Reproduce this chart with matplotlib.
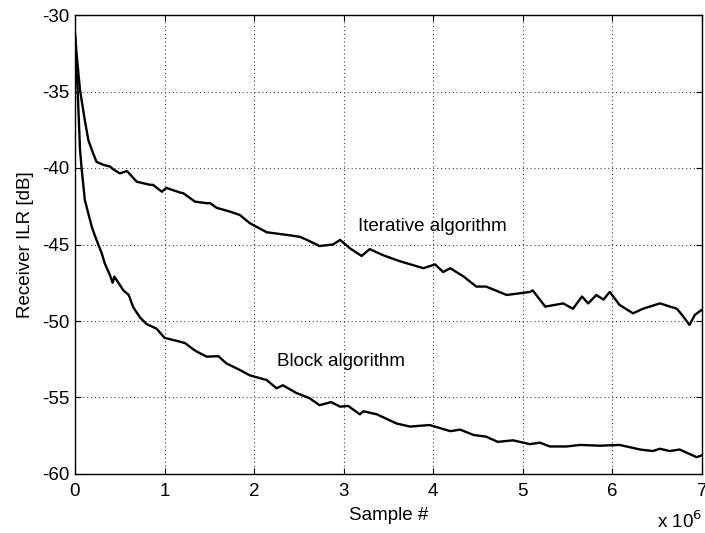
import matplotlib
matplotlib.use("Agg")
import matplotlib.pyplot as plt

plt.rcParams['font.family'] = ['Liberation Sans', 'DejaVu Sans']

# Iterative algorithm (x in units of 1e6 samples, y in dB)
iter_x = [0.0, 0.02, 0.056, 0.11, 0.15, 0.2, 0.24, 0.28, 0.32, 0.39, 0.43, 0.50, 0.58, 0.69,
          0.84, 0.87, 0.97, 1.02, 1.17, 1.21, 1.34, 1.47, 1.51, 1.58, 1.73, 1.84, 1.95,
          2.14, 2.40, 2.51, 2.59, 2.73, 2.88, 2.96, 3.07, 3.2, 3.29, 3.44, 3.63, 3.89,
          4.02, 4.11, 4.19, 4.34, 4.48, 4.59, 4.82, 5.08, 5.11, 5.25, 5.45, 5.56, 5.66,
          5.73, 5.82, 5.90, 5.97, 6.08, 6.23, 6.34, 6.53, 6.72, 6.79, 6.86, 6.92, 6.99]
iter_y = [-31.2, -32.7, -34.9, -36.9, -38.2, -39.0, -39.6, -39.7, -39.8, -39.9, -40.1, -40.35,
          -40.2, -40.9, -41.1, -41.1, -41.55, -41.3, -41.6, -41.65, -42.2, -42.3, -42.3,
          -42.6, -42.85, -43.07, -43.6, -44.2, -44.4, -44.5, -44.7, -45.1, -45.0, -44.7,
          -45.25, -45.75, -45.3, -45.7, -46.1, -46.55, -46.3, -46.8, -46.55, -47.1, -47.75,
          -47.75, -48.3, -48.1, -48.0, -49.06, -48.85, -49.2, -48.4, -48.85, -48.3, -48.6,
          -48.1, -48.95, -49.5, -49.2, -48.85, -49.2, -49.7, -50.26, -49.6, -49.3]

# Block algorithm
block_x = [0.0, 0.03, 0.056, 0.075, 0.11, 0.19, 0.24, 0.30, 0.33, 0.39, 0.42, 0.44, 0.54,
           0.60, 0.65, 0.73, 0.80, 0.91, 1.00, 1.17, 1.23, 1.32, 1.36, 1.47, 1.6, 1.69,
           1.84, 1.95, 2.14, 2.25, 2.32, 2.47, 2.62, 2.73, 2.86, 2.96, 3.05, 3.18, 3.22,
           3.37, 3.59, 3.74, 3.96, 4.19, 4.30, 4.45, 4.59, 4.72, 4.89, 5.08, 5.19, 5.30,
           5.49, 5.64, 5.86, 6.08, 6.31, 6.45, 6.53, 6.64, 6.75, 6.94, 6.99]
block_y = [-31.4, -35.0, -38.8, -40.1, -42.1, -43.9, -44.7, -45.6, -46.2, -47.0, -47.5,
           -47.1, -48.0, -48.3, -49.1, -49.8, -50.2, -50.5, -51.1, -51.35, -51.45, -51.85,
           -52.0, -52.33, -52.3, -52.77, -53.2, -53.55, -53.86, -54.4, -54.2, -54.7, -55.05,
           -55.5, -55.3, -55.6, -55.55, -56.1, -55.9, -56.1, -56.7, -56.9, -56.8, -57.2,
           -57.1, -57.45, -57.56, -57.9, -57.8, -58.05, -57.95, -58.2, -58.2, -58.1, -58.15,
           -58.1, -58.4, -58.5, -58.35, -58.5, -58.4, -58.9, -58.8]

x_ticks = [0, 1, 2, 3, 4, 5, 6, 7]
y_ticks = [-60, -55, -50, -45, -40, -35, -30]

FS = 13.5

fig = plt.figure(figsize=(7.05, 5.33), dpi=100)
ax = fig.add_axes([75/705, 1 - 474/533, (702-75)/705, (474-15)/533])

ax.plot(iter_x, iter_y, color='black', lw=1.7)
ax.plot(block_x, block_y, color='black', lw=1.7)

ax.set_xlim(0, 7)
ax.set_ylim(-60, -30)
ax.set_xticks(x_ticks)
ax.set_yticks(y_ticks)
ax.set_xticklabels([str(t) for t in x_ticks])
ax.set_yticklabels([str(t) for t in y_ticks])
ax.tick_params(direction='in', top=True, right=True, length=4, width=0.8,
               labelsize=FS)
ax.tick_params(axis='x', pad=6.5)
ax.tick_params(axis='y', pad=4)
ax.grid(True, color='#444444', linestyle=(0, (1, 2.5)), lw=0.8)
for s in ax.spines.values():
    s.set_linewidth(1.0)

ax.set_xlabel('Sample #', fontsize=FS, labelpad=5)
ax.set_ylabel('Receiver ILR [dB]', fontsize=FS, labelpad=6)

ax.text(3.16, -43.85, 'Iterative algorithm', fontsize=FS, ha='left', va='center')
ax.text(2.25, -52.66, 'Block algorithm', fontsize=FS, ha='left', va='center')

fig.text(657/705, 1 - 528/533, r'x 10$^{6}$', fontsize=FS, ha='left', va='baseline')

fig.savefig('out.png', dpi=100)
